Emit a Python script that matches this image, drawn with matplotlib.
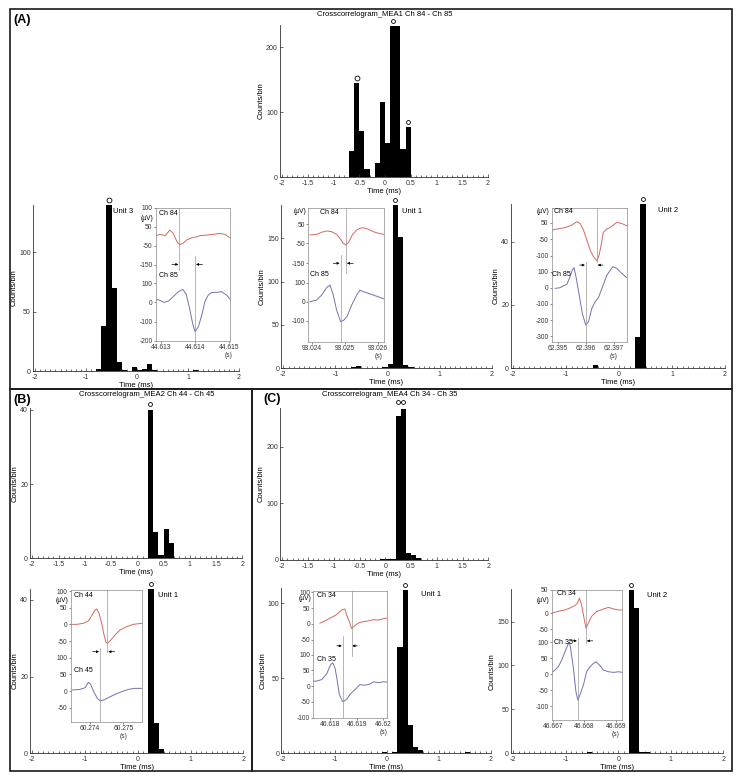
import numpy as np
import matplotlib
matplotlib.use('Agg')
import matplotlib.pyplot as plt
from matplotlib.patches import Rectangle
from matplotlib.ticker import MultipleLocator

plt.rcParams['font.family'] = ['Liberation Sans', 'DejaVu Sans']

W, H = 739, 779
RED = '#d4685c'
BLUE = '#6f73b5'

# crosscorrelogram bins: left edge (ms) and counts/bin, bin width 0.1 ms
bin_w = 0.1
a_top_edges = [-0.7, -0.6, -0.5, -0.4, -0.2, -0.1, 0.0, 0.1, 0.2, 0.3, 0.4]
a_top_counts = [40, 145, 71, 12, 22, 115, 52, 233, 232, 43, 77]
a_u3_edges = [-0.8, -0.7, -0.6, -0.5, -0.4, -0.3, -0.1, 0.0, 0.1, 0.2, 0.3, 1.1]
a_u3_counts = [2, 38, 140, 70, 8, 1, 3, 1, 2, 6, 1, 1]
a_u1_edges = [-0.7, -0.6, -0.1, 0.0, 0.1, 0.2, 0.3, 0.4]
a_u1_counts = [2, 3, 2, 5, 188, 151, 4, 2]
a_u2_edges = [-0.5, 0.3, 0.4]
a_u2_counts = [1, 10, 52]
b_top_edges = [0.2, 0.3, 0.4, 0.5, 0.6]
b_top_counts = [40, 7, 1, 8, 4]
b_u1_edges = [0.2, 0.3, 0.4]
b_u1_counts = [43, 8, 1]
c_top_edges = [-0.1, 0.0, 0.1, 0.2, 0.3, 0.4, 0.5, 0.6]
c_top_counts = [1, 2, 1, 254, 266, 12, 9, 3]
c_u1_edges = [-0.1, 0.1, 0.2, 0.3, 0.4, 0.5, 0.6, 1.5]
c_u1_counts = [1, 1, 71, 109, 19, 4, 2, 1]
c_u2_edges = [-0.6, 0.2, 0.3, 0.4, 0.5]
c_u2_counts = [1, 186, 165, 2, 1]

# spike waveforms: time (ms after first tick label) and amplitude (uV)
u3_red_t = [-0.16, -0.03, 0.12, 0.26, 0.36, 0.46, 0.54, 0.64, 0.75, 0.90, 1.05, 1.15, 1.34, 1.54, 1.73, 1.88, 2.03]
u3_red_v = [3, 10, 3, 32, 15, -25, -43, -38, -20, -8, -3, 3, 6, 10, 15, 10, -8]
u3_blue_t = [-0.16, -0.03, 0.09, 0.22, 0.36, 0.51, 0.64, 0.74, 0.83, 0.93, 1.00, 1.10, 1.20, 1.29, 1.39, 1.49, 1.64, 1.78, 1.93, 2.03]
u3_blue_v = [17, 10, 0, 7, 30, 56, 68, 42, -23, -110, -153, -127, -66, 3, 38, 52, 52, 56, 38, 17]

u1_red_t = [-0.05, 0.15, 0.30, 0.45, 0.60, 0.75, 0.85, 0.95, 1.03, 1.12, 1.22, 1.35, 1.45, 1.55, 1.70, 1.85, 2.00, 2.18]
u1_red_v = [-6, -3, 8, 15, 11, -3, -24, -50, -59, -41, -6, 20, 29, 32, 24, 11, 3, -3]
u1_blue_t = [-0.05, 0.15, 0.30, 0.45, 0.55, 0.65, 0.75, 0.87, 0.97, 1.07, 1.20, 1.35, 1.45, 1.55, 1.70, 1.85, 2.00, 2.18]
u1_blue_v = [0, 9, 35, 74, 88, 35, -44, -105, -96, -75, -18, 35, 61, 53, 44, 35, 26, 14]

u2_red_t = [-0.22, -0.10, 0.08, 0.26, 0.50, 0.68, 0.80, 0.92, 1.04, 1.16, 1.28, 1.40, 1.48, 1.55, 1.63, 1.75, 1.87, 1.99, 2.11, 2.29, 2.47]
u2_red_v = [5, 9, 15, 20, 36, 57, 46, 5, -57, -119, -160, -185, -150, -90, -10, 12, 20, 36, 53, 46, 32]
u2_blue_t = [-0.10, 0.08, 0.20, 0.32, 0.42, 0.52, 0.58, 0.66, 0.76, 0.88, 1.00, 1.10, 1.22, 1.34, 1.46, 1.58, 1.76, 1.97, 2.11, 2.29, 2.47]
u2_blue_v = [-4, 0, 12, 20, 60, 110, 124, 60, -40, -160, -231, -210, -128, -87, -60, -5, 78, 130, 120, 89, 62]

b_red_t = [-0.55, -0.40, -0.20, -0.05, 0.05, 0.15, 0.20, 0.27, 0.35, 0.42, 0.48, 0.52, 0.60, 0.75, 0.90, 1.10, 1.30, 1.55]
b_red_v = [0, 0, 3, 10, 26, 43, 46, 33, 3, -32, -54, -57, -50, -32, -17, -7, 0, 3]
b_blue_t = [-0.55, -0.30, -0.15, -0.05, 0.02, 0.12, 0.22, 0.30, 0.40, 0.55, 0.75, 0.95, 1.15, 1.35, 1.55]
b_blue_v = [3, 5, 10, 26, 20, -4, -22, -29, -27, -20, -10, -2, 5, 8, 8]

c1_red_t = [-0.375, -0.19, 0.0, 0.125, 0.275, 0.44, 0.56, 0.625, 0.725, 0.81, 0.90, 1.06, 1.25, 1.44, 1.625, 1.81, 2.0, 2.15]
c1_red_v = [2, 9, 18, 23, 31, 44, 47, 28, 7, -15, -8, 2, 7, 9, 13, 12, 16, 18]
c1_blue_t = [-0.625, -0.5, -0.31, -0.125, 0.025, 0.1, 0.19, 0.275, 0.35, 0.475, 0.57, 0.66, 0.75, 0.94, 1.125, 1.31, 1.5, 1.65, 1.81, 2.0, 2.15]
c1_blue_v = [16, 16, 21, 39, 68, 74, 58, 16, -26, -49, -45, -38, -26, -11, 5, 3, 7, 14, 11, 14, 13]

c2_red_t = [-0.04, 0.06, 0.22, 0.38, 0.54, 0.70, 0.78, 0.84, 0.91, 0.99, 1.05, 1.13, 1.23, 1.39, 1.61, 1.77, 1.93, 2.09, 2.21]
c2_red_v = [0, 3, 7, 10, 16, 24, 31, 47, 26, -16, -47, -31, -10, 5, 13, 18, 13, 10, 10]
c2_blue_t = [-0.04, 0.06, 0.17, 0.28, 0.38, 0.49, 0.52, 0.56, 0.65, 0.73, 0.79, 0.86, 0.97, 1.07, 1.18, 1.29, 1.37, 1.48, 1.61, 1.77, 1.93, 2.09, 2.21]
c2_blue_v = [6, 13, 24, 45, 70, 96, 100, 81, 19, -54, -80, -64, -33, 8, 24, 34, 39, 29, 13, 8, 6, 8, 6]

fig = plt.figure(figsize=(W / 100, H / 100), dpi=100)


def px_axes(l, t, r, b):
    return fig.add_axes([l / W, 1 - b / H, (r - l) / W, (b - t) / H])


def px_text(x, y, s, **kw):
    fig.text(x / W, 1 - y / H, s, **kw)


def hist_panel(box, edges, counts, ylim, ystep, xstep, marks, unit=None):
    # box gives the pixel positions of x=-2, top, x=2, y=0; the y axis sits a little left of -2
    l, t, r, b = box
    x0 = -2.04
    ax = px_axes(l - (r - l) * (-2 - x0) / 4, t, r, b)
    ax.bar(edges, counts, width=bin_w, align='edge', color='k', lw=0)
    ax.set_xlim(x0, 2)
    ax.set_ylim(*ylim)
    ax.xaxis.set_major_locator(MultipleLocator(xstep))
    ax.xaxis.set_minor_locator(MultipleLocator(0.1))
    ax.yaxis.set_major_locator(MultipleLocator(ystep))
    ax.xaxis.set_major_formatter(plt.FuncFormatter(lambda v, p: '%g' % v))
    for s in ['top', 'right']:
        ax.spines[s].set_visible(False)
    for s in ['left', 'bottom']:
        ax.spines[s].set_linewidth(0.6)
        ax.spines[s].set_color('#333333')
    ax.tick_params(labelsize=5, length=2, width=0.5, direction='in', colors='#333333')
    ax.tick_params(axis='x', pad=2)
    ax.tick_params(axis='y', pad=1.5)
    ax.tick_params(which='minor', length=1.2, width=0.4, direction='in')
    ax.set_xlabel('Time (ms)', fontsize=5.5, labelpad=1)
    ax.set_ylabel('Counts/bin', fontsize=5.5, labelpad=1)
    for mx, my, ms in marks:
        ax.plot(mx, my, '-o', color='k', mfc='white', mec='k', ms=ms, mew=0.6, lw=0.6, clip_on=False)
    if unit:
        ax.text(unit[0], 0.96, unit[1], transform=ax.get_xaxis_transform(), fontsize=5.5, va='center')
    return ax


def inset(box, xlim, ylim, rt, rv, bt, bv, offset, ytp, ytl, xtl, red_stop, blue_start,
          arrow_y, ch_names, top_xy, bot_xy, mu_y):
    ax = px_axes(*box)
    rt = np.array(rt)
    bt = np.array(bt)
    ax.plot(rt, np.array(rv) + offset, color=RED, lw=0.7)
    ax.plot(bt, bv, color=BLUE, lw=0.7)
    tr = rt[np.argmin(rv)]
    tb = bt[np.argmin(bv)]
    ax.plot([tr, tr], [red_stop, ylim[1]], color='#999999', lw=0.5)
    ax.plot([tb, tb], [ylim[0], blue_start], color='#999999', lw=0.5)
    lo, hi = min(tr, tb), max(tr, tb)
    ap = dict(arrowstyle='-|>', lw=0.5, color='k', mutation_scale=3.5, shrinkA=0, shrinkB=0)
    ax.annotate('', xy=(lo - 0.03, arrow_y), xytext=(lo - 0.22, arrow_y), arrowprops=ap)
    ax.annotate('', xy=(hi + 0.03, arrow_y), xytext=(hi + 0.22, arrow_y), arrowprops=ap)
    ax.set_xlim(*xlim)
    ax.set_ylim(*ylim)
    ax.set_xticks(range(len(xtl)))
    ax.set_xticklabels(xtl)
    ax.set_yticks(ytp)
    ax.set_yticklabels(ytl)
    for s in ax.spines.values():
        s.set_linewidth(0.5)
        s.set_color('#8a8a8a')
    ax.tick_params(labelsize=4.8, length=1.5, width=0.4, pad=0.8, colors='#333333')
    ax.text(top_xy[0], top_xy[1], ch_names[0], transform=ax.transAxes, fontsize=5, va='top')
    ax.text(bot_xy[0], bot_xy[1], ch_names[1], transform=ax.transAxes, fontsize=5, va='center')
    ax.text(-0.03, mu_y, '(\u00b5V)', transform=ax.transAxes, fontsize=4.8, ha='right', va='center')
    return ax


# ---------------- panel (A)
hist_panel((282, 25, 488, 177), a_top_edges, a_top_counts, (0, 234), 100, 0.5,
           [([-0.55], [152], 3.5), ([0.15], [240], 2.8), ([0.45], [84], 2.8)])
hist_panel((35, 205, 239, 371), a_u3_edges, a_u3_counts, (0, 140), 50, 1,
           [([-0.55], [144], 3.5)], (-0.47, 'Unit 3'))
hist_panel((283.3, 205.4, 491.7, 368.3), a_u1_edges, a_u1_counts, (0, 188), 50, 1,
           [([0.15], [194], 2.8)], (0.27, 'Unit 1'))
hist_panel((513.3, 203.7, 725, 368.3), a_u2_edges, a_u2_counts, (0, 52), 20, 1,
           [([0.45], [53.5], 2.8)], (0.74, 'Unit 2'))

inset((155.7, 207.7, 230, 340.7), (-0.157, 2.03), (-200, 494), u3_red_t, u3_red_v,
      u3_blue_t, u3_blue_v, 345, [494, 395, 296, 196, 100, 0, -100, -200],
      ['100', '50', '-50', '-150', '100', '0', '-100', '-200'],
      ['44.613', '44.614', '44.615\n(s)'], 170, 240, 198, ('Ch 84', 'Ch 85'),
      (0.04, 0.985), (0.04, 0.49), 0.92)
inset((308.3, 208.3, 384.3, 341.7), (-0.10, 2.18), (-210, 491), u1_red_t, u1_red_v,
      u1_blue_t, u1_blue_v, 357, [407, 307, 202, 100, 0, -100],
      ['50', '-50', '-150', '100', '0', '-100'],
      ['93.024', '93.025', '93.026\n(s)'], 149, 246, 202, ('Ch 84', 'Ch 85'),
      (0.15, 0.995), (0.02, 0.5), 0.975)
inset((551.7, 207.7, 626.7, 341.7), (-0.22, 2.47), (-334, 495), u2_red_t, u2_red_v,
      u2_blue_t, u2_blue_v, 351.5, [402, 301, 198, 100, 0, -100, -200, -300],
      ['50', '-50', '-100', '100', '0', '-100', '-200', '-300'],
      ['62.395', '62.396', '62.397\n(s)'], 161, 161, 140, ('Ch 84', 'Ch 85'),
      (0.03, 0.995), (0.0, 0.5), 0.97)

# ---------------- panel (B)
hist_panel((32.3, 408, 242.3, 558.3), b_top_edges, b_top_counts, (0, 40.5), 20, 0.5,
           [([0.25], [41.5], 2.8)])
hist_panel((32.3, 588.5, 243.3, 753.3), b_u1_edges, b_u1_counts, (0, 43), 20, 1,
           [([0.25], [44.2], 2.8)], (0.39, 'Unit 1'))
inset((70.7, 590, 141.7, 721.7), (-0.58, 1.55), (-92, 303), b_red_t, b_red_v,
      b_blue_t, b_blue_v, 200, [300, 250, 200, 150, 100, 50, 0, -50],
      ['100', '50', '0', '-50', '100', '50', '0', '-50'],
      ['60.274', '60.275\n(s)'], 118, 128, 118, ('Ch 44', 'Ch 45'),
      (0.04, 0.985), (0.04, 0.39), 0.924)

# ---------------- panel (C)
hist_panel((282.3, 408, 488.3, 560), c_top_edges, c_top_counts, (0, 268), 100, 0.5,
           [([0.25, 0.35], [278, 278], 2.8)])
hist_panel((283.3, 588, 490.7, 753.3), c_u1_edges, c_u1_counts, (0, 110), 50, 1,
           [([0.35], [112], 2.8)], (0.66, 'Unit 1'))
hist_panel((513.3, 589, 723.3, 753.3), c_u2_edges, c_u2_counts, (0, 187), 50, 1,
           [([0.25], [191], 2.8)], (0.54, 'Unit 2'))
inset((313.3, 591, 387.3, 717.7), (-0.625, 2.15), (-100, 302), c1_red_t, c1_red_v,
      c1_blue_t, c1_blue_v, 198, [298, 248, 198, 148, 100, 50, 0, -50, -100],
      ['100', '50', '0', '-50', '100', '50', '0', '-50', '-100'],
      ['46.618', '46.619', '46.62\n(s)'], 95, 158, 128, ('Ch 34', 'Ch 35'),
      (0.05, 0.995), (0.05, 0.46), 0.937)
inset((551.7, 590, 622.3, 720), (-0.043, 2.21), (-142, 262), c2_red_t, c2_red_v,
      c2_blue_t, c2_blue_v, 190, [262, 190, 140, 100, 50, 0, -50, -100],
      ['50', '0', '-50', '100', '50', '0', '-50', '-100'],
      ['46.667', '46.668', '46.669\n(s)'], 96, 112, 104, ('Ch 34', 'Ch 35'),
      (0.07, 1.0), (0.03, 0.6), 0.923)

# titles and panel letters
px_text(385, 15, 'Crosscorrelogram_MEA1 Ch 84 - Ch 85', fontsize=5.5, ha='center', va='center')
px_text(147, 395, 'Crosscorrelogram_MEA2 Ch 44 - Ch 45', fontsize=5.5, ha='center', va='center')
px_text(390, 395, 'Crosscorrelogram_MEA4 Ch 34 - Ch 35', fontsize=5.5, ha='center', va='center')
px_text(13, 20, '(A)', fontsize=9, fontweight='bold', va='center')
px_text(13, 400, '(B)', fontsize=9, fontweight='bold', va='center')
px_text(263, 399, '(C)', fontsize=9, fontweight='bold', va='center')

# panel frames
for l, t, r, b in [(10, 9, 732, 389), (10, 389, 252, 771), (252, 389, 732, 771)]:
    fig.add_artist(Rectangle((l / W, 1 - b / H), (r - l) / W, (b - t) / H,
                             transform=fig.transFigure, fill=False, lw=1.2, ec='#1a1a1a'))

fig.savefig('out.png', dpi=100)
